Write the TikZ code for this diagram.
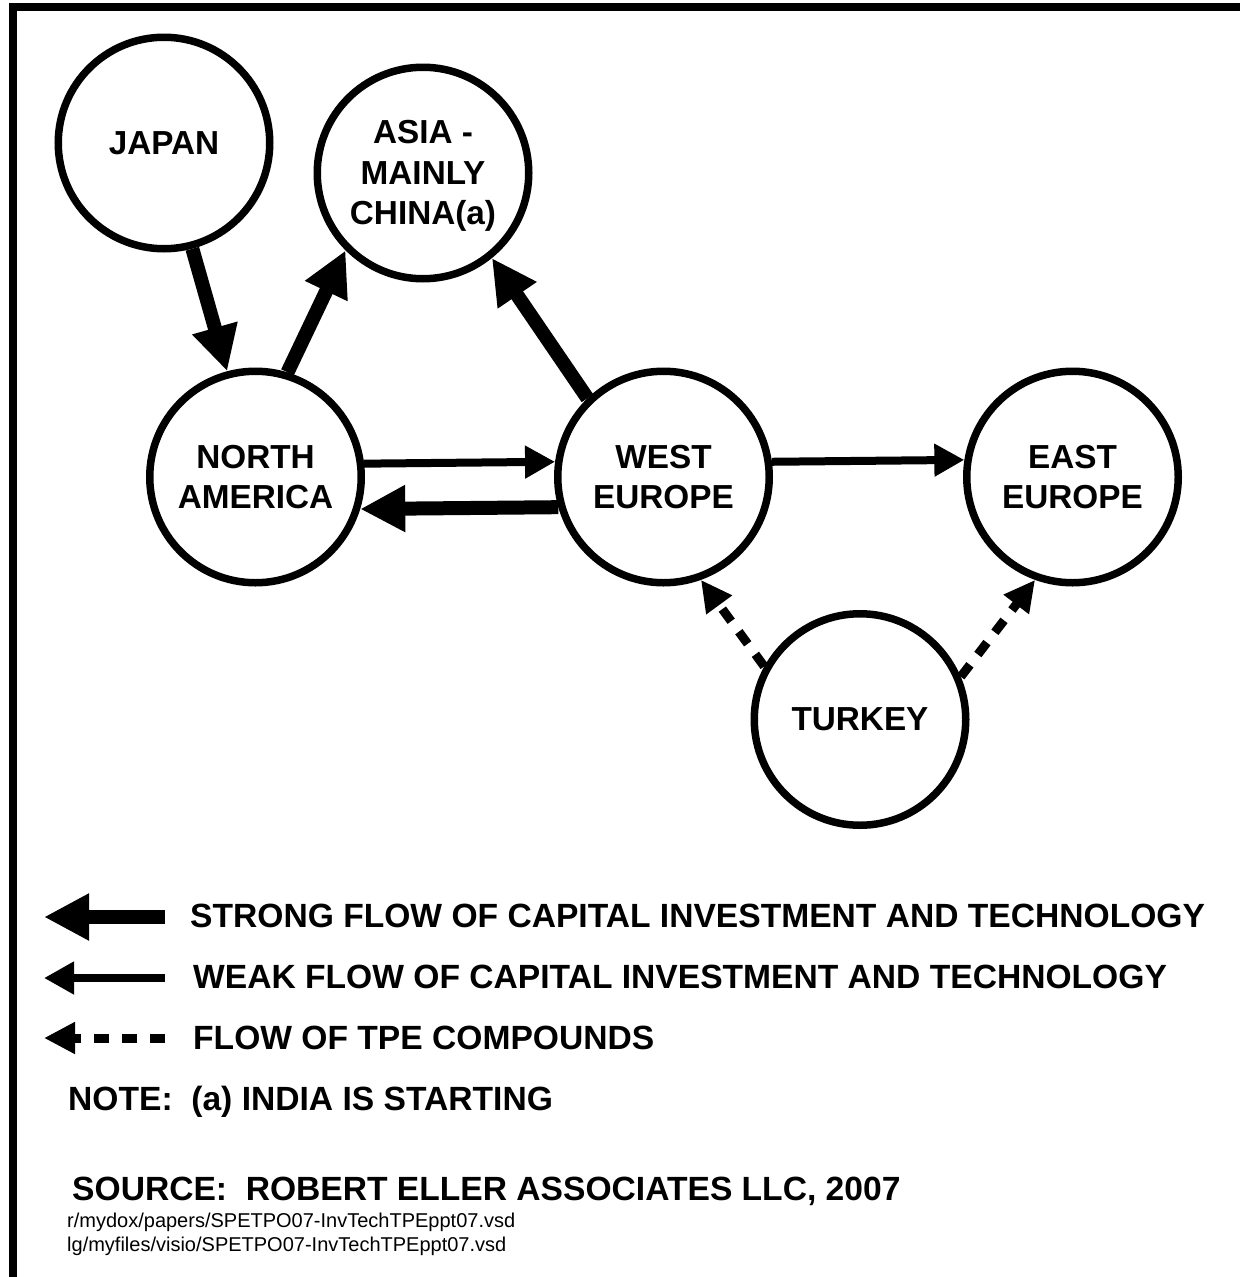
\documentclass[tikz,border=0pt]{standalone}
\usepackage{fontspec}
\setmainfont{Liberation Sans}
\usetikzlibrary{arrows.meta}
\begin{document}
\frenchspacing
\begin{tikzpicture}[x=1pt,y=-1pt,
  region/.style={circle, draw, line width=7.5pt, minimum size=211.5pt, inner sep=0pt,
    align=center, font=\bfseries\fontsize{33.3}{40.5}\selectfont},
  strong/.style={line width=14pt, -{Triangle[length=45pt,width=44pt]}},
  weak/.style={line width=8pt, -{Triangle[length=30pt,width=31pt]}},
  tpe/.style={line width=9pt, dash pattern=on 15pt off 13pt, -{Triangle[length=31pt,width=30pt]}},
  legtext/.style={anchor=base west, inner sep=0pt, font=\bfseries\fontsize{33.6}{40}\selectfont},
  small/.style={anchor=base west, inner sep=0pt, font=\fontsize{20}{25}\selectfont}]
\useasboundingbox (0,0) rectangle (1240,1277);
% frame
\draw[line width=8pt] (13,1277) -- (13,7) -- (1240,7);
% regions
\node[region] (japan) at (164,143) {JAPAN};
\node[region] (asia) at (423,173) {ASIA -\\MAINLY\\CHINA\smash{(a)}};
\node[region] (na) at (255.5,477) {NORTH\\AMERICA};
\node[region] (we) at (663.5,477) {WEST\\EUROPE};
\node[region] (ee) at (1072.5,477) {EAST\\EUROPE};
\node[region] (tr) at (860,719.5) {TURKEY};
% flows
\draw[strong] (japan.285) -- (na.105.9);
\draw[strong] (na.73.6) -- (asia.225.7);
\draw[strong] (we.134) -- (asia.309.5);
\draw[weak] (na.7.9) -- (we.172.1);
\draw[strong] (we.196.1) -- (na.343.9);
\draw[weak] (we.8.4) -- (ee.171.6);
\draw[tpe] (tr.151.3) -- (we.290.7);
\draw[tpe] (tr.23.3) -- (ee.250.7);
% legend
\coordinate (s1) at (165,917); \coordinate (s1t) at (44,917);
\coordinate (s2) at (165,978); \coordinate (s2t) at (44,978);
\coordinate (s3) at (165,1038); \coordinate (s3t) at (44,1038);
\draw[strong] (s1) -- (s1t);
\draw[weak] (s2) -- (s2t);
\draw[tpe] (s3) -- (s3t);
\node[legtext] (t1) at (190,927) {STRONG FLOW OF CAPITAL INVESTMENT AND TECHNOLOGY};
\node[legtext] (t2) at (193,988) {WEAK FLOW OF CAPITAL INVESTMENT AND TECHNOLOGY};
\node[legtext] (t3) at (193,1049) {FLOW OF TPE COMPOUNDS};
\node[legtext] (note) at (68,1110) {NOTE:\ \ (a) INDIA IS STARTING};
\node[legtext] (src) at (72,1200) {SOURCE:\ \ ROBERT ELLER ASSOCIATES LLC, 2007};
\node[small] (f1) at (67,1227) {r/mydox/papers/SPETPO07-InvTechTPEppt07.vsd};
\node[small] (f2) at (67,1251) {lg/myfiles/visio/SPETPO07-InvTechTPEppt07.vsd};
\end{tikzpicture}
\end{document}
